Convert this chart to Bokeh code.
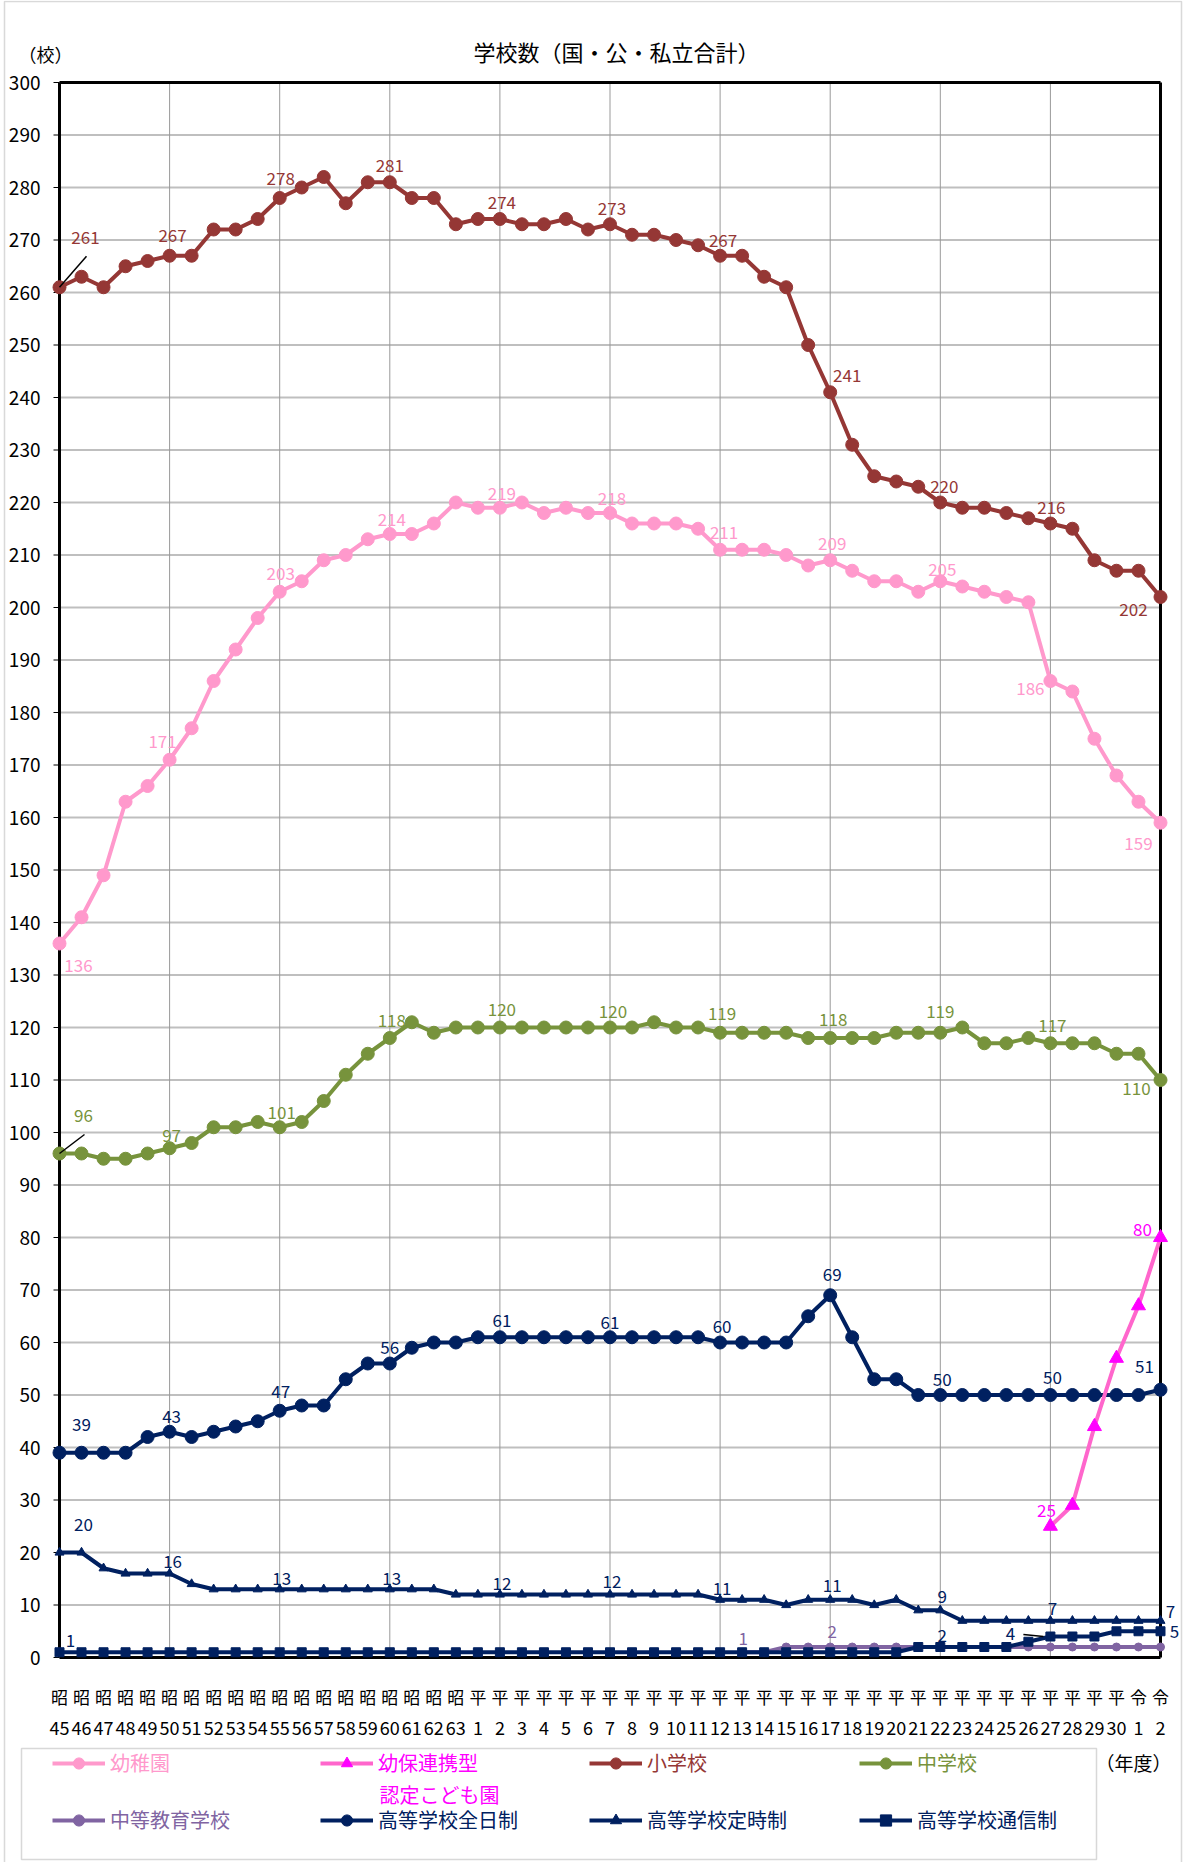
from bokeh.plotting import figure
from bokeh.models import (Range1d, LabelSet, Label, ColumnDataSource, Legend, LegendItem,
                          BoxAnnotation)
from bokeh.embed import file_html
from bokeh.resources import INLINE
from bokeh.core.properties import value

nan = float("nan")

# ---------------- data ----------------
era = ["昭"] * 19 + ["平"] * 30 + ["令"] * 2
era_num = ["45", "46", "47", "48", "49", "50", "51", "52", "53", "54", "55", "56", "57", "58", "59",
           "60", "61", "62", "63",
           "1", "2", "3", "4", "5", "6", "7", "8", "9", "10", "11", "12", "13", "14", "15", "16",
           "17", "18", "19", "20", "21", "22", "23", "24", "25", "26", "27", "28", "29", "30",
           "1", "2"]
y_ticks = [0, 10, 20, 30, 40, 50, 60, 70, 80, 90, 100, 110, 120, 130, 140, 150, 160, 170, 180,
           190, 200, 210, 220, 230, 240, 250, 260, 270, 280, 290, 300]
x_grid = [0, 5, 10, 15, 20, 25, 30, 35, 40, 45, 50]

kinder = [136, 141, 149, 163, 166, 171, 177, 186, 192, 198,
          203, 205, 209, 210, 213, 214, 214, 216, 220, 219,
          219, 220, 218, 219, 218, 218, 216, 216, 216, 215,
          211, 211, 211, 210, 208, 209, 207, 205, 205, 203,
          205, 204, 203, 202, 201, 186, 184, 175, 168, 163, 159]
yoho = [nan] * 45 + [25, 29, 44, 57, 67, 80]
elem = [261, 263, 261, 265, 266, 267, 267, 272, 272, 274,
        278, 280, 282, 277, 281, 281, 278, 278, 273, 274,
        274, 273, 273, 274, 272, 273, 271, 271, 270, 269,
        267, 267, 263, 261, 250, 241, 231, 225, 224, 223,
        220, 219, 219, 218, 217, 216, 215, 209, 207, 207, 202]
junior = [96, 96, 95, 95, 96, 97, 98, 101, 101, 102,
          101, 102, 106, 111, 115, 118, 121, 119, 120, 120,
          120, 120, 120, 120, 120, 120, 120, 121, 120, 120,
          119, 119, 119, 119, 118, 118, 118, 118, 119, 119,
          119, 120, 117, 117, 118, 117, 117, 117, 115, 115, 110]
chuto = [nan] * 31 + [1, 1, 2, 2, 2, 2, 2, 2, 2, 2, 2, 2, 2, 2, 2, 2, 2, 2, 2, 2]
zennichi = [39, 39, 39, 39, 42, 43, 42, 43, 44, 45,
            47, 48, 48, 53, 56, 56, 59, 60, 60, 61,
            61, 61, 61, 61, 61, 61, 61, 61, 61, 61,
            60, 60, 60, 60, 65, 69, 61, 53, 53, 50,
            50, 50, 50, 50, 50, 50, 50, 50, 50, 50, 51]
teiji = [20, 20, 17, 16, 16, 16, 14, 13, 13, 13,
         13, 13, 13, 13, 13, 13, 13, 13, 12, 12,
         12, 12, 12, 12, 12, 12, 12, 12, 12, 12,
         11, 11, 11, 10, 11, 11, 11, 10, 11, 9,
         9, 7, 7, 7, 7, 7, 7, 7, 7, 7, 7]
tsushin = [1, 1, 1, 1, 1, 1, 1, 1, 1, 1,
           1, 1, 1, 1, 1, 1, 1, 1, 1, 1,
           1, 1, 1, 1, 1, 1, 1, 1, 1, 1,
           1, 1, 1, 1, 1, 1, 1, 1, 1, 2,
           2, 2, 2, 2, 3, 4, 4, 4, 5, 5, 5]
x_idx = list(range(len(era)))
X_MIN, X_MAX, Y_MIN, Y_MAX = 0, 50, 0, 300

# ---------------- geometry (page px) ----------------
W, H = 1186, 1862
FX0, FX1 = 59, 1160           # plot area left / right
FY0, FY1 = 82, 1657           # plot area top / bottom
SX = (FX1 - FX0) / (X_MAX - X_MIN)
SY = (FY1 - FY0) / (Y_MAX - Y_MIN)


def dx(px):
    return X_MIN + (px - FX0) / SX


def dy(py):
    return Y_MIN + (FY1 - py) / SY


JP = "Noto Sans CJK JP"
C_KIN, C_YOHO_L, C_YOHO_M = "#FF99CC", "#FF66CC", "#FF00FF"
C_ELEM, C_JUN, C_CHU, C_HS = "#953735", "#77933C", "#8064A2", "#002060"

p = figure(width=W, height=H, output_backend="svg", toolbar_location=None,
           x_range=Range1d(dx(0), dx(W)), y_range=Range1d(dy(H), dy(0)),
           x_axis_type=None, y_axis_type=None,
           min_border_left=0, min_border_right=0, min_border_top=0, min_border_bottom=0)
p.outline_line_color = None
p.background_fill_color = "white"
p.border_fill_color = "white"
p.xgrid.visible = False
p.ygrid.visible = False

# ---------------- grid, frame, ticks ----------------
hg = [t for t in y_ticks if Y_MIN < t < Y_MAX]
p.segment(x0=[X_MIN] * len(hg), x1=[X_MAX] * len(hg), y0=hg, y1=hg,
          line_color="#BFBFBF", line_width=2)
vg = [t for t in x_grid if X_MIN < t < X_MAX]
p.segment(x0=vg, x1=vg, y0=[Y_MIN] * len(vg), y1=[Y_MAX] * len(vg),
          line_color="#999999", line_width=1)
# y tick marks (outward)
p.segment(x0=[X_MIN - 6 / SX] * len(y_ticks), x1=[X_MIN] * len(y_ticks), y0=y_ticks, y1=y_ticks,
          line_color="black", line_width=1)
# plot-area border
p.segment(x0=[X_MIN, X_MIN, X_MIN, X_MAX], x1=[X_MAX, X_MAX, X_MIN, X_MAX],
          y0=[Y_MIN, Y_MAX, Y_MIN, Y_MIN], y1=[Y_MIN, Y_MAX, Y_MAX, Y_MAX],
          line_color="black", line_width=3)

# y tick labels
p.text(x=[dx(40)] * len(y_ticks), y=y_ticks, text=[str(t) for t in y_ticks],
       text_font=value(JP), text_font_size="19px", text_color="black",
       text_align="right", text_baseline="middle")
# x tick labels, two rows
p.text(x=x_idx, y=[dy(1696)] * len(x_idx), text=era,
       text_font=value(JP), text_font_size="17px", text_color="black",
       text_align="center", text_baseline="middle")
p.text(x=x_idx, y=[dy(1727)] * len(x_idx), text=era_num,
       text_font=value(JP), text_font_size="18px", text_color="black",
       text_align="center", text_baseline="middle")

# ---------------- series ----------------
styles = {
    # key: (line colour, marker, marker size, marker colour)
    "kinder": (C_KIN, "circle", 13, C_KIN),
    "yoho": (C_YOHO_L, "triangle", 14, C_YOHO_M),
    "elem": (C_ELEM, "circle", 13, C_ELEM),
    "junior": (C_JUN, "circle", 13, C_JUN),
    "chuto": (C_CHU, "circle", 8, C_CHU),
    "zennichi": (C_HS, "circle", 13, C_HS),
    "teiji": (C_HS, "triangle", 9, C_HS),
    "tsushin": (C_HS, "square", 9, C_HS),
}
values = {"kinder": kinder, "yoho": yoho, "elem": elem, "junior": junior,
          "chuto": chuto, "zennichi": zennichi, "teiji": teiji, "tsushin": tsushin}

series = {}
for key in ["chuto", "tsushin", "teiji", "zennichi", "junior", "elem", "kinder", "yoho"]:
    lc, mk, ms, mc = styles[key]
    src = ColumnDataSource(dict(x=x_idx, y=values[key]))
    lr = p.line("x", "y", source=src, line_color=lc, line_width=4)
    sr = p.scatter("x", "y", source=src, marker=mk, size=ms, fill_color=mc, line_color=mc)
    series[key] = (lr, sr)

# ---------------- data labels ----------------
# (index, x offset px, y offset px upward)
label_specs = {
    "elem": (C_ELEM, [(0, 26, 50), (5, 3, 20), (10, 1, 20), (15, 0, 17), (20, 2, 17),
                      (25, 2, 16), (30, 3, 15), (35, 17, 17), (40, 4, 16), (45, 1, 16),
                      (50, -27, -12)]),
    "kinder": (C_KIN, [(0, 19, -22), (5, -7, 18), (10, 1, 18), (15, 2, 15), (20, 2, 14),
                       (25, 2, 15), (30, 4, 17), (35, 2, 17), (40, 2, 12), (45, -20, -7),
                       (50, -22, -21)]),
    "junior": (C_JUN, [(0, 24, 38), (5, 2, 13), (10, 2, 15), (15, 2, 18), (20, 2, 18),
                       (25, 3, 16), (30, 2, 19), (35, 3, 19), (40, 0, 21), (45, 2, 18),
                       (50, -24, -8)]),
    "zennichi": (C_HS, [(0, 22, 28), (5, 2, 15), (10, 1, 19), (15, 0, 16), (20, 2, 17),
                        (25, 0, 15), (30, 2, 16), (35, 2, 21), (40, 2, 16), (45, 2, 18),
                        (50, -16, 23)]),
    "teiji": (C_HS, [(0, 24, 28), (5, 3, 12), (10, 2, 11), (15, 2, 11), (20, 2, 11),
                     (25, 2, 13), (30, 2, 11), (35, 2, 14), (40, 2, 14), (45, 2, 12),
                     (50, 10, 9)]),
    "tsushin": (C_HS, [(0, 11, 12), (40, 2, 12), (45, -40, 3), (50, 14, 0)]),
    "chuto": (C_CHU, [(31, 1, 14), (35, 2, 16)]),
    "yoho": (C_YOHO_M, [(45, -4, 16), (50, -18, 8)]),
}
for key, (color, specs) in label_specs.items():
    vals = values[key]
    src = ColumnDataSource(dict(
        x=[i for i, _, _ in specs],
        y=[vals[i] for i, _, _ in specs],
        t=[str(int(vals[i])) for i, _, _ in specs],
        ox=[ox for _, ox, _ in specs],
        oy=[oy for _, _, oy in specs]))
    p.add_layout(LabelSet(x="x", y="y", text="t", source=src, x_offset="ox", y_offset="oy",
                          text_font=value(JP), text_font_size="17px", text_color=color,
                          text_align="center", text_baseline="middle"))

# leader lines: (series, index, start offset px, end offset px)
leaders = [("elem", 0, (0, 0), (27, 31)),
           ("junior", 0, (0, 0), (25, 19)),
           ("tsushin", 45, (-27, 2), (-7, 0))]
lx0, ly0, lx1, ly1 = [], [], [], []
for key, i, (sx0, sy0), (sx1, sy1) in leaders:
    v = values[key][i]
    lx0.append(i + sx0 / SX)
    ly0.append(v + sy0 / SY)
    lx1.append(i + sx1 / SX)
    ly1.append(v + sy1 / SY)
p.segment(x0=lx0, y0=ly0, x1=lx1, y1=ly1, line_color="black", line_width=1.5)

# ---------------- texts ----------------
p.add_layout(Label(x=dx(616), y=dy(50), text="学校数（国・公・私立合計）", text_font=JP,
                   text_font_size="22px", text_color="black", text_align="center",
                   text_baseline="middle"))
p.add_layout(Label(x=dx(45), y=dy(53), text="（校）", text_font=JP, text_font_size="18px",
                   text_color="black", text_align="center", text_baseline="middle"))
p.add_layout(Label(x=dx(1133), y=dy(1762), text="（年度）", text_font=JP, text_font_size="19px",
                   text_color="black", text_align="center", text_baseline="middle"))

# ---------------- legend ----------------
p.add_layout(BoxAnnotation(left=dx(21), right=dx(1096), top=dy(1748), bottom=dy(1859),
                           fill_alpha=0, line_color="#7F7F7F", line_width=1.5))
col_x = [52, 320, 589, 859]
row_y = [1763, 1820]
GH = 28
legend_items = [
    ("幼稚園", "kinder", C_KIN, 0, 0),
    ("幼保連携型", "yoho", C_YOHO_M, 1, 0),
    ("小学校", "elem", C_ELEM, 2, 0),
    ("中学校", "junior", C_JUN, 3, 0),
    ("中等教育学校", "chuto", C_CHU, 0, 1),
    ("高等学校全日制", "zennichi", C_HS, 1, 1),
    ("高等学校定時制", "teiji", C_HS, 2, 1),
    ("高等学校通信制", "tsushin", C_HS, 3, 1),
]
for text, key, color, c, r in legend_items:
    lg = Legend(items=[LegendItem(label=text, renderers=list(series[key]))],
                location=(col_x[c], H - (row_y[r] + GH / 2)),
                glyph_width=53, glyph_height=GH, label_height=GH, label_standoff=5,
                padding=0, margin=0, spacing=0, border_line_color=None,
                background_fill_alpha=0, label_text_font=JP, label_text_font_size="20px",
                label_text_color=color, label_text_baseline="middle")
    p.add_layout(lg)
p.add_layout(Label(x=dx(379), y=dy(1794), text="認定こども園", text_font=JP,
                   text_font_size="20px", text_color=C_YOHO_M, text_align="left",
                   text_baseline="middle"))

# outer chart border
p.add_layout(BoxAnnotation(left=dx(4), right=dx(1181), top=dy(1), bottom=dy(H + 10),
                           fill_alpha=0, line_color="#808080", line_width=1.5))

open("out.html", "w").write(file_html(p, INLINE))
